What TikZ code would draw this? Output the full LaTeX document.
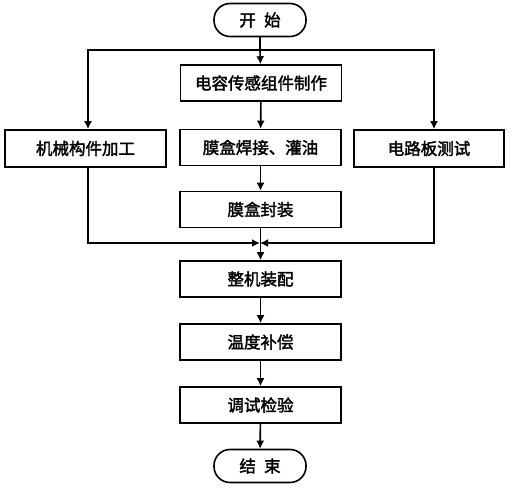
\documentclass[tikz,border=0pt]{standalone}
\usepackage{fontspec}
\newfontfamily\cjk[FakeBold=2]{Noto Sans CJK SC}
\usetikzlibrary{arrows.meta}

\begin{document}
\begin{tikzpicture}[x=1pt, y=-1pt,
    proc/.style={rectangle, draw=black, line width=1.6pt, fill=white,
        minimum width=161pt, minimum height=36pt, inner sep=0pt,
        font=\cjk\fontsize{16.5}{18}\selectfont},
    term/.style={proc, rounded corners=16pt, minimum width=92pt, minimum height=33pt},
    line/.style={line width=1.6pt, -},
    arrow/.style={line width=1.6pt, -{Latex[length=8pt, width=8pt]}}
]
    \useasboundingbox (0,0) rectangle (521,491);
    \node[term] (start) at (260,20) {开\enspace 始};
    \coordinate (split) at (260,50);
    \coordinate (lsplit) at (88,50);
    \coordinate (rsplit) at (434,50);
    \node[proc] (cap) at (261,83) {电容传感组件制作};
    \node[proc, minimum height=37pt] (mech) at (85.5,148.5) {机械构件加工};
    \node[proc] (film) at (260.5,147.5) {膜盒焊接、灌油};
    \node[proc, minimum width=150pt, minimum height=37pt] (circ) at (429,148.5) {电路板测试};
    \node[proc] (seal) at (260.5,209.5) {膜盒封装};
    \coordinate (join) at (260,243);
    \coordinate (ljoin) at (88,243);
    \coordinate (rjoin) at (434,243);
    \node[proc] (assy) at (260.5,279) {整机装配};
    \node[proc] (temp) at (260.5,342) {温度补偿};
    \node[proc] (check) at (260.5,405) {调试检验};
    \node[term] (end) at (260,466) {结\enspace 束};
    \draw[line] (start) -- (split);
    \draw[arrow] (split) -- (cap);
    \draw[arrow] (split) -- (lsplit) -- (lsplit |- mech.north);
    \draw[arrow] (split) -- (rsplit) -- (rsplit |- circ.north);
    \draw[arrow] (cap) -- (film);
    \draw[arrow] (film) -- (seal);
    \draw[arrow] (ljoin |- mech.south) -- (ljoin) -- (join);
    \draw[arrow] (rjoin |- circ.south) -- (rjoin) -- (join);
    \draw[arrow] (seal) -- (assy);
    \draw[arrow] (assy) -- (temp);
    \draw[arrow] (temp) -- (check);
    \draw[arrow] (check) -- (end);
\end{tikzpicture}
\end{document}
